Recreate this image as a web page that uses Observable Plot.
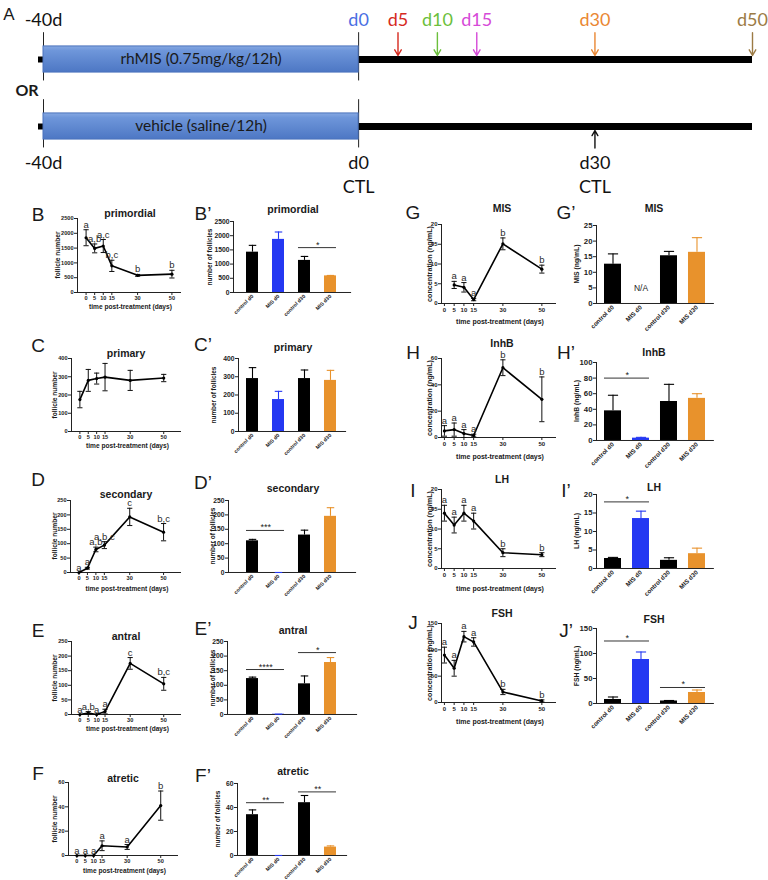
<!DOCTYPE html>
<html><head><meta charset="utf-8">
<script src="https://cdn.jsdelivr.net/npm/d3@7"></script>
<script src="https://cdn.jsdelivr.net/npm/@observablehq/plot@0.6"></script>
<style>
body{margin:0;background:#fff;}
#root{position:relative;width:768px;height:880px;overflow:hidden;background:#fff;}
</style></head>
<body><div id="root"></div>
<script>
// ---------------- DATA ----------------
// Panel A timeline
const timelineRows = ["rhMIS (0.75mg/kg/12h)", "vehicle (saline/12h)"];
const treatmentStart = -40, treatmentEnd = 0, followEnd = 50;
const sampleDays = [5, 10, 15, 30, 50];
const sampleLabels = ["d5", "d10", "d15", "d30", "d50"];
const sampleColors = ["#d62a1e", "#6cbf3c", "#d64ad8", "#ea8733", "#9c7b45"];
const ctlDays = [0, 30];
const ctlLabels = ["d0", "d30"];

// Line panels (time course)
const days = [0, 5, 10, 15, 30, 50];
const dayTicks = [0, 5, 10, 15, 30, 50];
const primordialMean = [1850, 1490, 1570, 900, 580, 620];
const primordialErr = [270, 150, 220, 190, 30, 130];
const primordialLetters = ["a", "a,b", "a,c", "b,c", "b", "b"];
const primaryMean = [175, 280, 290, 298, 280, 293];
const primaryErr = [45, 60, 30, 75, 55, 20];
const primaryLetters = ["", "", "", "", "", ""];
const secondaryMean = [0, 15, 80, 95, 193, 140];
const secondaryErr = [0, 3, 8, 12, 30, 30];
const secondaryLetters = ["a", "a", "a,b", "a,b,c", "c", "b,c"];
const antralMean = [0, 5, 0, 10, 175, 105];
const antralErr = [0, 5, 0, 8, 20, 22];
const antralLetters = ["a", "a,b", "a", "a", "c", "b,c"];
const atreticMean = [0, 0, 0, 8, 7, 41];
const atreticErr = [0, 0, 0, 4, 2, 12];
const atreticLetters = ["a", "a", "a", "a", "a", "b"];
const misDays = [5, 10, 15, 30, 50];
const misMean = [4.7, 4.1, 1.0, 15.1, 8.7];
const misErr = [0.9, 1.2, 0.3, 1.5, 1.0];
const misLetters = ["a", "a", "a", "b", "b"];
const inhbMean = [5, 6, 3, 1.5, 53, 29];
const inhbErr = [4, 5, 3, 1, 6, 17];
const inhbLetters = ["a", "a", "a", "a", "b", "b"];
const lhMean = [14, 11, 14, 12, 4, 3.5];
const lhErr = [2, 2, 2, 2, 1, 0.5];
const lhLetters = ["a", "a", "a", "a", "b", "b"];
const fshMean = [90, 65, 125, 115, 20, 3];
const fshErr = [15, 15, 10, 8, 5, 2];
const fshLetters = ["a", "a", "a", "a", "b", "b"];

// Bar panels (groups)
const groups = ["control d0", "MIS d0", "control d30", "MIS d30"];
const groupColors = ["#000000", "#2438f2", "#000000", "#e8922c"];
const primordialBar = [1420, 1870, 1130, 585];
const primordialBarErr = [240, 260, 140, 15];
const primaryBar = [290, 175, 290, 280];
const primaryBarErr = [60, 45, 47, 55];
const secondaryBar = [110, 0, 130, 195];
const secondaryBarErr = [5, 0, 17, 30];
const antralBar = [123, 1, 105, 178];
const antralBarErr = [5, 0, 27, 17];
const atreticBar = [34, 0, 44, 7];
const atreticBarErr = [4, 0, 6, 1];
const misBar = [12.6, null, 15.3, 16.4];
const misBarErr = [3.3, 0, 1.4, 4.7];
const inhbBar = [38, 3, 50, 54];
const inhbBarErr = [20, 1, 22, 6];
const lhBar = [2.7, 13.5, 2.2, 4.0];
const lhBarErr = [0.3, 2.0, 0.7, 1.5];
const fshBar = [8, 88, 5, 22];
const fshBarErr = [5, 15, 1, 5];
// significance bars: [from group, to group, level, label]
const primordialSig = [["control d30", "MIS d30", 1580, "*"]];
const secondarySig = [["control d0", "MIS d0", 146, "***"]];
const antralSig = [["control d0", "MIS d0", 154, "****"], ["control d30", "MIS d30", 212, "*"]];
const atreticSig = [["control d0", "MIS d0", 44, "**"], ["control d30", "MIS d30", 53, "**"]];
const inhbSig = [["control d0", "MIS d0", 80, "*"]];
const lhSig = [["control d0", "MIS d0", 18, "*"]];
const fshSig = [["control d0", "MIS d0", 125, "*"], ["control d30", "MIS d30", 32, "*"]];

// ---------------- HELPERS ----------------
const root = document.getElementById("root");
const SANS = "'Liberation Sans', Arial, sans-serif";
function place(node, left, top) {
  node.style.position = "absolute";
  node.style.left = left + "px";
  node.style.top = top + "px";
  root.append(node);
}
function addText(txt, x, y, o = {}) {
  const d = document.createElement("div");
  d.textContent = txt;
  Object.assign(d.style, {
    position: "absolute", left: x + "px", top: y + "px",
    transform: `translate(-50%,-50%) rotate(${o.rotate || 0}deg)`,
    fontSize: (o.size || 10) + "px", fontWeight: o.weight || "normal",
    color: o.color || "#1a1a1a", fontFamily: o.family || SANS,
    whiteSpace: "nowrap", lineHeight: "1"
  });
  root.append(d);
}
function setTickFont(svg, axis, size) {
  svg.querySelectorAll(`g[aria-label="${axis}-axis tick label"]`).forEach(g => g.setAttribute("font-size", size));
}
const capSymbol = {
  draw(context, size) {
    const r = Math.sqrt(size / Math.PI);
    context.moveTo(-r, 0); context.lineTo(r, 0);
  }
};
const fmt = d => String(d);

function linePanel(p) {
  const mL = 40, mR = 6, mT = 18, mB = 20;
  const width = (p.x1 - p.x0) + mL + mR;
  const height = (p.yZero - p.yTop) + mT + mB;
  const data = p.days.map((d, i) => ({day: d, mean: p.mean[i], err: p.err[i], letter: p.letters[i]}));
  const svg = Plot.plot({
    width, height, marginLeft: mL, marginRight: mR, marginTop: mT, marginBottom: mB,
    style: {fontFamily: SANS, fontSize: p.tickFont + "px", fontWeight: "bold", color: "#222", background: "transparent", overflow: "visible"},
    x: {domain: p.xDomain, ticks: dayTicks, tickSize: 3, tickPadding: 1, line: true, label: null, tickFormat: fmt},
    y: {domain: [0, p.yMax], ticks: p.yTicks, tickSize: 3, tickPadding: 1, line: true, label: null, tickFormat: fmt},
    marks: [
      Plot.ruleX(data, {x: "day", y1: d => d.mean - d.err, y2: d => d.mean + d.err, stroke: "#111", strokeWidth: 1}),
      Plot.dot(data, {x: "day", y: d => d.mean + d.err, symbol: capSymbol, r: 2.6, fill: "none", stroke: "#111", strokeWidth: 1}),
      Plot.dot(data, {x: "day", y: d => d.mean - d.err, symbol: capSymbol, r: 2.6, fill: "none", stroke: "#111", strokeWidth: 1}),
      Plot.line(data, {x: "day", y: "mean", stroke: "#000", strokeWidth: 1.6}),
      Plot.dot(data, {x: "day", y: "mean", r: 1.6, fill: "#000"}),
      Plot.text(data, {x: "day", y: d => d.mean + d.err, text: "letter", lineAnchor: "bottom", dy: -2,
        fontSize: 9.5, fontWeight: "normal", fill: "#2a2a2a"})
    ]
  });
  place(svg, p.x0 - mL, p.yTop - mT);
}

function barPanel(p) {
  const n = groups.length;
  const pin = 1 - p.bw / p.step;
  const pout = (p.firstCenter - p.bw / 2 - p.x0) / p.step;
  const x1 = p.x0 + p.step * (n - pin + 2 * pout);
  const mL = 40, mR = 6, mT = 18, mB = 40;
  const width = (x1 - p.x0) + mL + mR;
  const height = (p.yZero - p.yTop) + mT + mB;
  const data = groups.map((g, i) => ({group: g, mean: p.mean[i], err: p.err[i], color: groupColors[i]}))
    .filter(d => d.mean != null);
  const sig = (p.sig || []).map(([a, b, y, label]) => ({a, b, y, label}));
  const marks = [
    Plot.ruleX(data, {x: "group", y1: "mean", y2: d => d.mean + d.err, stroke: "color", strokeWidth: 1.1}),
    Plot.dot(data, {x: "group", y: d => d.mean + d.err, symbol: capSymbol, r: p.bw * 0.3, fill: "none", stroke: "color", strokeWidth: 1.1}),
    Plot.barY(data, {x: "group", y: "mean", fill: "color"}),
    Plot.ruleY(sig, {x1: "a", x2: "b", y: "y", stroke: "#333", strokeWidth: 1}),
    Plot.text(sig, {x: "a", y: "y", text: "label", dx: p.step / 2, lineAnchor: "bottom", dy: 0, fontSize: 9, fontWeight: "normal", fill: "#222"})
  ];
  if (p.na) marks.push(Plot.text([p.na], {x: "group", y: "y", text: "text", fontSize: 8.5, fontWeight: "normal", fill: "#222"}));
  const svg = Plot.plot({
    width, height, marginLeft: mL, marginRight: mR, marginTop: mT, marginBottom: mB,
    style: {fontFamily: SANS, fontSize: p.tickFont + "px", fontWeight: "bold", color: "#222", background: "transparent", overflow: "visible"},
    color: {type: "identity"},
    x: {domain: groups, paddingInner: pin, paddingOuter: pout, tickRotate: -45, tickSize: 0, tickPadding: 3, line: true, label: null,
        tickFormat: d => d},
    y: {domain: [0, p.yMax], ticks: p.yTicks, tickSize: 3, tickPadding: 1, line: true, label: null, tickFormat: fmt},
    marks
  });
  setTickFont(svg, "x", p.xTickFont);
  place(svg, p.x0 - mL, p.yTop - mT);
}

// ---------------- PANEL A: TIMELINE ----------------
const rows = timelineRows.map((label, i) => ({label, i}));
const topLabels = [{day: treatmentStart, text: "-40d", color: "#111"}, {day: treatmentEnd, text: "d0", color: "#4a6fe3"}]
  .concat(sampleDays.map((d, i) => ({day: d, text: sampleLabels[i], color: sampleColors[i]})));
const samples = sampleDays.map((d, i) => ({day: d, color: sampleColors[i]}));
const vlines = [];
rows.forEach(r => [treatmentStart, treatmentEnd].forEach(d => vlines.push({day: d, i: r.i})));
const bottomLabels = [{day: treatmentStart, text: "-40d"}].concat(ctlDays.map((d, i) => ({day: d, text: ctlLabels[i]})));
const ctl = ctlDays.map(d => ({day: d, text: "CTL"}));
const ctlArrow = [{day: 30}];

const timeline = Plot.plot({
  width: 768, height: 200, margin: 0,
  style: {fontFamily: "Lato, 'Open Sans', sans-serif", background: "transparent", overflow: "visible"},
  x: {domain: [treatmentStart, followEnd], range: [43, 752], axis: null},
  y: {domain: [0, 1], range: [59, 126], axis: null},
  marks: [
    Plot.ruleY(rows, {y: "i", x1: () => treatmentStart, x2: () => treatmentStart, stroke: "#000", strokeWidth: 6, strokeLinecap: "square", dx: -2}),
    Plot.ruleY(rows, {y: "i", x1: () => treatmentEnd, x2: () => followEnd, stroke: "#000", strokeWidth: 7}),
    Plot.ruleX(vlines, {x: "day", y1: d => d.i - 0.4, y2: d => d.i + 0.32, stroke: "#222", strokeWidth: 1}),
    Plot.rect(rows, {x1: () => treatmentStart, x2: () => treatmentEnd, y1: d => d.i - 0.195, y2: d => d.i + 0.195,
      fill: "#5a84cc", stroke: "#4b73bd", strokeWidth: 1}),
    Plot.text(rows, {x: () => (treatmentStart + treatmentEnd) / 2, y: "i", text: "label", fill: "#1a1a1a", fontSize: 15.5}),
    Plot.text(topLabels, {x: "day", y: () => -0.58, text: "text", fill: "color", fontSize: 18}),
    Plot.arrow(samples, {x1: "day", x2: "day", y1: () => -0.4, y2: () => -0.06, stroke: "color", strokeWidth: 1.4, headLength: 7}),
    Plot.text(bottomLabels, {x: "day", y: () => 1.55, text: "text", fill: "#111", fontSize: 18}),
    Plot.text(ctl, {x: "day", y: () => 1.9, text: "text", fill: "#111", fontSize: 18}),
    Plot.arrow(ctlArrow, {x1: "day", x2: "day", y1: () => 1.32, y2: () => 1.06, stroke: "#111", strokeWidth: 1.4, headLength: 7})
  ]
});
// vertical gradient on the treatment bars
(function () {
  const ns = "http://www.w3.org/2000/svg";
  const defs = document.createElementNS(ns, "defs");
  const lg = document.createElementNS(ns, "linearGradient");
  lg.setAttribute("id", "barGrad"); lg.setAttribute("x1", "0"); lg.setAttribute("y1", "0"); lg.setAttribute("x2", "0"); lg.setAttribute("y2", "1");
  [["0", "#86a8e2"], ["0.18", "#6e96da"], ["1", "#4d77c4"]].forEach(([o, c]) => {
    const s = document.createElementNS(ns, "stop"); s.setAttribute("offset", o); s.setAttribute("stop-color", c); lg.append(s);
  });
  defs.append(lg); timeline.prepend(defs);
  timeline.querySelectorAll('g[aria-label="rect"]').forEach(g => {
    g.setAttribute("fill", "url(#barGrad)");
    g.querySelectorAll("rect").forEach(r => r.setAttribute("fill", "url(#barGrad)"));
  });
})();
place(timeline, 0, 0);
addText("A", 9, 14, {size: 17});
addText("OR", 27, 90, {size: 16, weight: "bold", family: "Lato, sans-serif"});

// ---------------- LEFT LINE PANELS ----------------
const leftLine = [
  {L: "B", title: "primordial", tx: 130, ty: 213, lx: 38, ly: 214, x0: 77, x1: 180, xDomain: [-5, 55], yTop: 218, yZero: 292, yMax: 2500, yTicks: d3.range(0, 2501, 500), mean: primordialMean, err: primordialErr, letters: primordialLetters, xl: 307, ylx: 58},
  {L: "C", title: "primary", tx: 126, ty: 353, lx: 38, ly: 345, x0: 71, x1: 180, xDomain: [-5, 60], yTop: 358, yZero: 431, yMax: 400, yTicks: d3.range(0, 401, 100), mean: primaryMean, err: primaryErr, letters: primaryLetters, xl: 446, ylx: 55},
  {L: "D", title: "secondary", tx: 126, ty: 494, lx: 38, ly: 479, x0: 70, x1: 180, xDomain: [-5, 60], yTop: 500, yZero: 572, yMax: 250, yTicks: d3.range(0, 251, 50), mean: secondaryMean, err: secondaryErr, letters: secondaryLetters, xl: 589, ylx: 55},
  {L: "E", title: "antral", tx: 126, ty: 636, lx: 38, ly: 630, x0: 71, x1: 180, xDomain: [-5, 60], yTop: 641, yZero: 714, yMax: 250, yTicks: d3.range(0, 251, 50), mean: antralMean, err: antralErr, letters: antralLetters, xl: 729, ylx: 55},
  {L: "F", title: "atretic", tx: 123, ty: 778, lx: 38, ly: 773, x0: 68, x1: 177, xDomain: [-5, 60], yTop: 782, yZero: 855, yMax: 60, yTicks: [0, 20, 40, 60], mean: atreticMean, err: atreticErr, letters: atreticLetters, xl: 871, ylx: 55}
];
leftLine.forEach(p => {
  linePanel({...p, days, tickFont: 5.6});
  addText(p.L, p.lx, p.ly, {size: 19});
  addText(p.title, p.tx, p.ty, {size: 10.5, weight: "bold"});
  addText("time post-treatment (days)", (p.x0 + p.x1) / 2 + 2, p.xl, {size: 6.6, weight: "bold"});
  addText("follicle number", p.ylx, (p.yTop + p.yZero) / 2, {size: 6.6, weight: "bold", rotate: -90});
});

// ---------------- LEFT BAR PANELS ----------------
const leftBar = [
  {L: "B’", title: "primordial", ty: 209, ly: 213, x0: 233, yTop: 221, yZero: 292, yMax: 2500, yTicks: d3.range(0, 2501, 500), mean: primordialBar, err: primordialBarErr, sig: primordialSig, ylx: 210},
  {L: "C’", title: "primary", ty: 347, ly: 344, x0: 238, yTop: 358, yZero: 431, yMax: 400, yTicks: d3.range(0, 401, 100), mean: primaryBar, err: primaryBarErr, sig: [], ylx: 214},
  {L: "D’", title: "secondary", ty: 488, ly: 482, x0: 228, yTop: 500, yZero: 572, yMax: 250, yTicks: d3.range(0, 251, 50), mean: secondaryBar, err: secondaryBarErr, sig: secondarySig, ylx: 213},
  {L: "E’", title: "antral", ty: 630, ly: 628, x0: 227, yTop: 641, yZero: 714, yMax: 250, yTicks: d3.range(0, 251, 50), mean: antralBar, err: antralBarErr, sig: antralSig, ylx: 213},
  {L: "F’", title: "atretic", ty: 771, ly: 775, x0: 237, yTop: 783, yZero: 855, yMax: 60, yTicks: [0, 20, 40, 60], mean: atreticBar, err: atreticBarErr, sig: atreticSig, ylx: 218}
];
leftBar.forEach(p => {
  barPanel({...p, firstCenter: 251.5, step: 26.7, bw: 12.5, tickFont: 6.8, xTickFont: 5.2});
  addText(p.L, 203, p.ly, {size: 19});
  addText(p.title, 293, p.ty, {size: 10.5, weight: "bold"});
  addText("number of follicles", p.ylx, (p.yTop + p.yZero) / 2, {size: 6.4, weight: "bold", rotate: -90});
});

// ---------------- RIGHT LINE PANELS ----------------
const rightLine = [
  {L: "G", title: "MIS", ty: 208, ly: 212, yTop: 224, yZero: 303, yMax: 20, yTicks: [0, 5, 10, 15, 20], days: misDays, mean: misMean, err: misErr, letters: misLetters, xl: 321},
  {L: "H", title: "InhB", ty: 343, ly: 352, yTop: 358, yZero: 437, yMax: 60, yTicks: [0, 20, 40, 60], days, mean: inhbMean, err: inhbErr, letters: inhbLetters, xl: 456},
  {L: "I", title: "LH", ty: 479, ly: 490, yTop: 489, yZero: 568, yMax: 20, yTicks: [0, 5, 10, 15, 20], days, mean: lhMean, err: lhErr, letters: lhLetters, xl: 588},
  {L: "J", title: "FSH", ty: 613, ly: 622, yTop: 623, yZero: 702, yMax: 150, yTicks: [0, 50, 100, 150], days, mean: fshMean, err: fshErr, letters: fshLetters, xl: 721}
];
rightLine.forEach(p => {
  linePanel({...p, x0: 441, x1: 555, xDomain: [-1.5, 57], tickFont: 6});
  addText(p.L, 413, p.ly, {size: 19});
  addText(p.title, 502, p.ty, {size: 10.5, weight: "bold"});
  addText("time post-treatment (days)", 500, p.xl, {size: 7, weight: "bold"});
  addText("concentration (ng/mL)", 430, (p.yTop + p.yZero) / 2, {size: 7.2, weight: "bold", rotate: -90});
});

// ---------------- RIGHT BAR PANELS ----------------
const rightBar = [
  {L: "G’", title: "MIS", ty: 208, ly: 212, yTop: 225, yZero: 303, yMax: 25, yTicks: [0, 5, 10, 15, 20, 25], mean: misBar, err: misBarErr, sig: [], yl: "MIS (ng/mL)", na: {group: "MIS d0", y: 5, text: "N/A"}},
  {L: "H’", title: "InhB", ty: 352, ly: 352, yTop: 362, yZero: 440, yMax: 100, yTicks: [0, 20, 40, 60, 80, 100], mean: inhbBar, err: inhbBarErr, sig: inhbSig, yl: "InhB (ng/mL)"},
  {L: "I’", title: "LH", ty: 487, ly: 490, yTop: 494, yZero: 568, yMax: 20, yTicks: [0, 5, 10, 15, 20], mean: lhBar, err: lhBarErr, sig: lhSig, yl: "LH (ng/mL)"},
  {L: "J’", title: "FSH", ty: 619, ly: 630, yTop: 628, yZero: 703, yMax: 150, yTicks: [0, 50, 100, 150], mean: fshBar, err: fshBarErr, sig: fshSig, yl: "FSH (ng/mL)"}
];
rightBar.forEach(p => {
  barPanel({...p, x0: 596, firstCenter: 612, step: 28.3, bw: 17, tickFont: 7.8, xTickFont: 6.2});
  addText(p.L, 566, p.ly, {size: 19});
  addText(p.title, 654, p.ty, {size: 10.5, weight: "bold"});
  addText(p.yl, 577, (p.yTop + p.yZero) / 2, {size: 6.8, weight: "bold", rotate: -90});
});
</script>
</body></html>
